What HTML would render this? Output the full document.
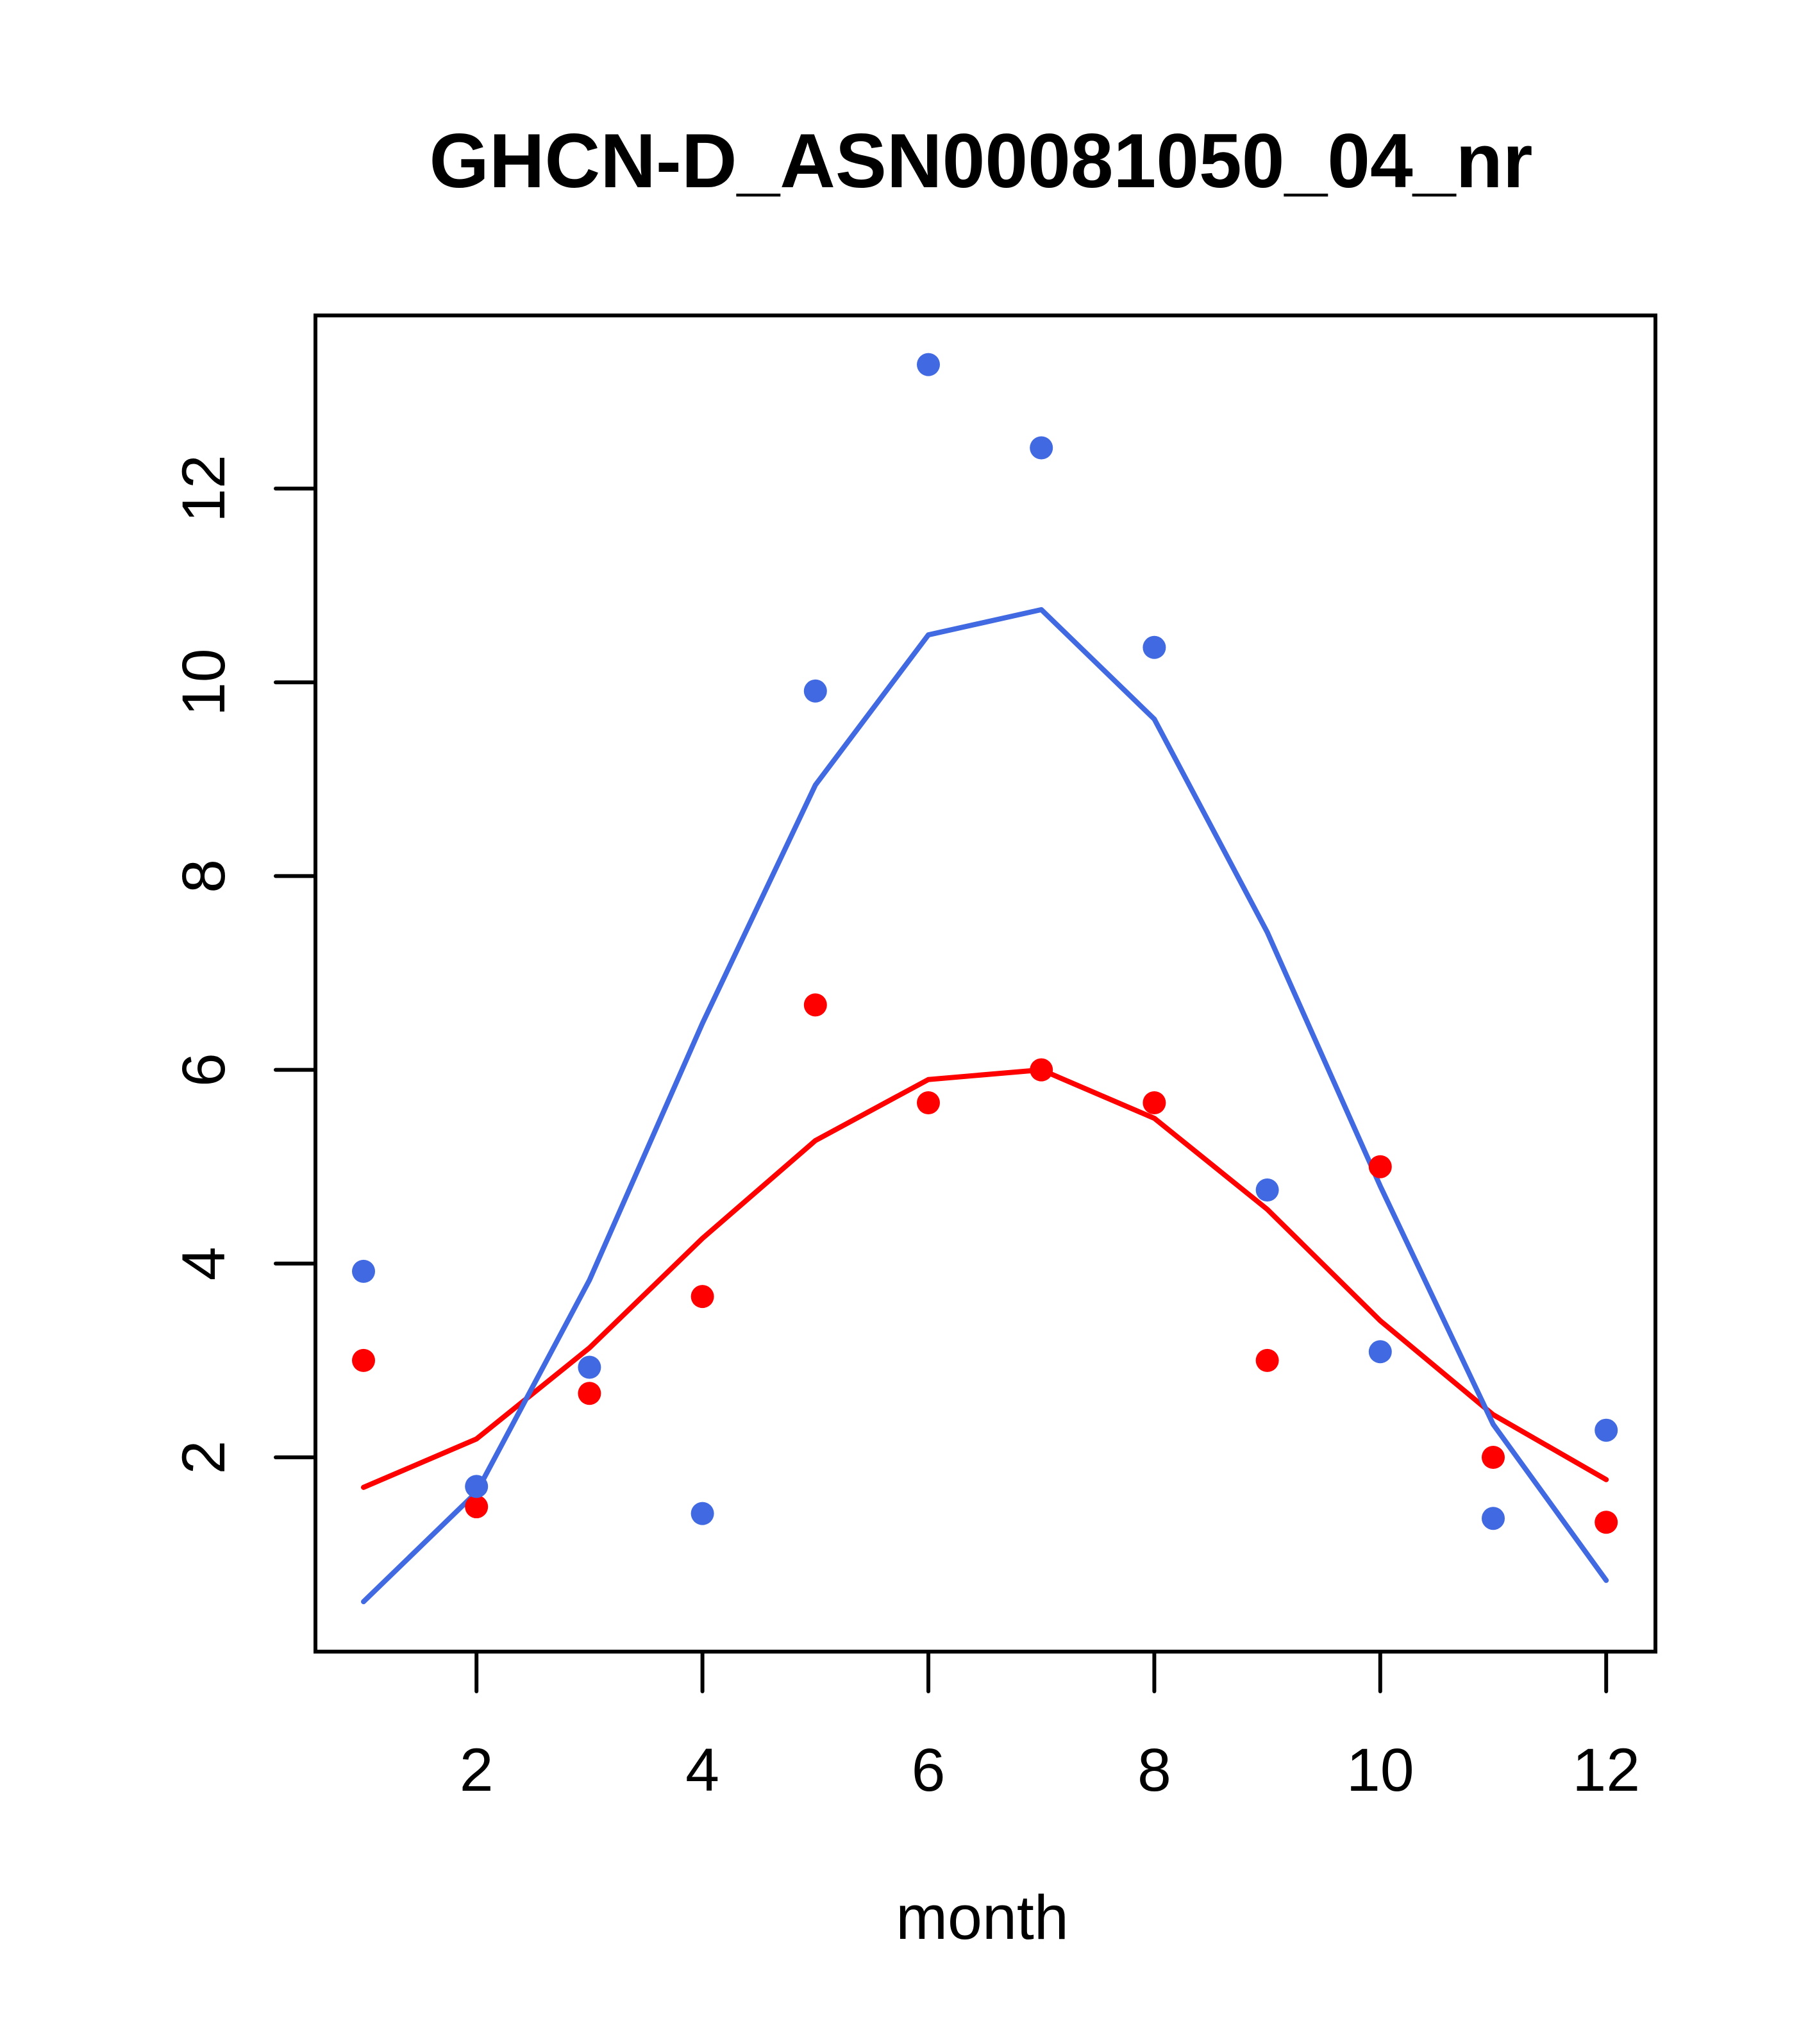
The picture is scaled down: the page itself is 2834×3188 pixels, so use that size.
<!DOCTYPE html>
<html><head><meta charset="utf-8"><style>html,body{margin:0;padding:0;background:#fff}svg{display:block}</style></head>
<body>
<svg id="chart" width="2834" height="3188" viewBox="0 0 2834 3188" xmlns="http://www.w3.org/2000/svg" font-family="'Liberation Sans', sans-serif">
<rect width="2834" height="3188" fill="#fff"/>
<text x="1530" y="292" font-size="120" font-weight="bold" text-anchor="middle">GHCN-D_ASN00081050_04_nr</text>
<rect x="492" y="492" width="2090" height="2084" fill="none" stroke="#000" stroke-width="6"/>
<g id="xaxis"></g>
<g id="yaxis"></g>
<text x="1532" y="3024" font-size="97" text-anchor="middle">month</text>
<g id="series"></g>
</svg>
<script>
const months = [1,2,3,4,5,6,7,8,9,10,11,12];
const bluePoints = [3.92,1.70,2.93,1.42,9.91,13.28,12.42,10.36,4.76,3.09,1.37,2.28];
const redPoints = [3.0,1.49,2.66,3.66,6.67,5.66,6.0,5.66,3.0,5.0,2.0,1.33];
const blueLine = [0.51,1.64,3.83,6.48,8.94,10.49,10.75,9.62,7.42,4.80,2.34,0.73];
const redLine = [1.69,2.19,3.13,4.26,5.27,5.90,6.0,5.50,4.56,3.41,2.44,1.77];
const xTicks = [2,4,6,8,10,12];
const yTicks = [2,4,6,8,10,12];

const NS = 'http://www.w3.org/2000/svg';
function X(m){return 567 + (m-1)*176.2;}
function Y(v){return 762 + (12-v)*151.1;}
function mk(tag, attrs, parent){const e=document.createElementNS(NS,tag);for(const k in attrs)e.setAttribute(k,attrs[k]);parent.appendChild(e);return e;}

const xa=document.getElementById('xaxis');
xTicks.forEach(t=>{
  const l=mk('line',{x1:X(t),x2:X(t),y1:2576,y2:2638,stroke:'#000','stroke-width':6,'stroke-linecap':'round'},xa);
  
  
  const tx=mk('text',{x:X(t),y:2793,'font-size':95,'text-anchor':'middle'},xa);
  tx.textContent=t;
  
  
});
const ya=document.getElementById('yaxis');
yTicks.forEach(t=>{
  const l=mk('line',{x1:430,x2:492,y1:Y(t),y2:Y(t),stroke:'#000','stroke-width':6,'stroke-linecap':'round'},ya);
  
  
  const tx=mk('text',{x:0,y:0,'font-size':95,'text-anchor':'middle',transform:`translate(350,${Y(t)}) rotate(-90)`},ya);
  tx.textContent=t;
  
  
});

const s=document.getElementById('series');
function line(vals,color,name){
  const p=mk('polyline',{points:vals.map((v,i)=>X(months[i])+','+Y(v)).join(' '),fill:'none',stroke:color,'stroke-width':8,'stroke-linejoin':'round','stroke-linecap':'round'},s);
  
  
}
function pts(vals,color,name){
  vals.forEach((v,i)=>{
    const c=mk('circle',{cx:X(months[i]),cy:Y(v),r:18,fill:color},s);
    
    
  });
}
line(redLine,'#FF0000','red-fit-line');
line(blueLine,'#4169E1','blue-fit-line');
pts(redPoints,'#FF0000','red-point');
pts(bluePoints,'#4169E1','blue-point');
</script>
</body></html>
